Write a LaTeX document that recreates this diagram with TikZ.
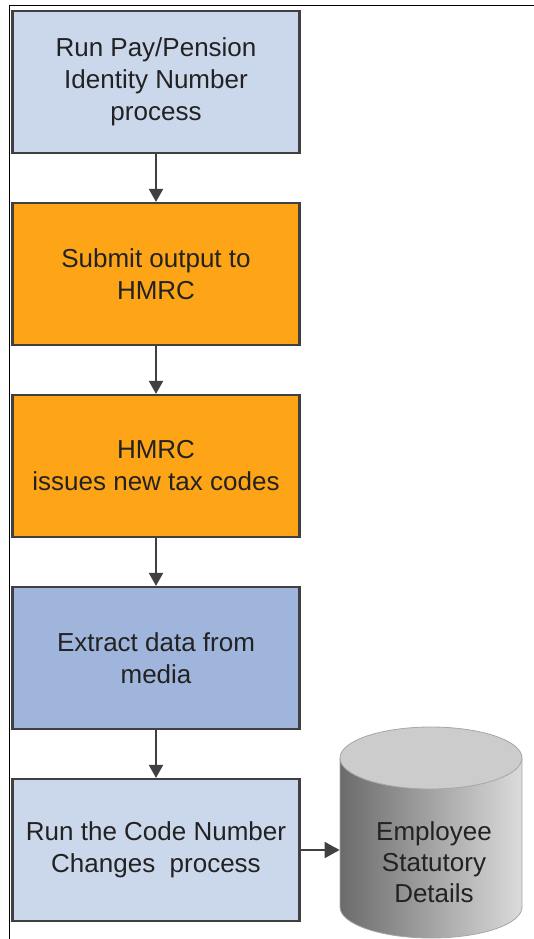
\documentclass[tikz,border=0pt]{standalone}
\usepackage{fontspec}
\setmainfont{Liberation Sans}
\usetikzlibrary{positioning,arrows.meta}
\definecolor{paleblue}{HTML}{CBD8EB}
\definecolor{midblue}{HTML}{A0B5DB}
\definecolor{hmrcorange}{HTML}{FDA516}
\definecolor{edgegray}{HTML}{404040}
\definecolor{textgray}{HTML}{222222}
\tikzset{
  stepbox/.style={draw=edgegray, line width=2.2pt, minimum width=287pt, minimum height=142pt,
    align=center, text=textgray, font=\fontsize{26}{32}\selectfont, inner sep=0pt},
  flow/.style={draw=edgegray, line width=2pt, -{Triangle[length=13pt,width=14pt]}}
}

\begin{document}
\begin{tikzpicture}[x=1pt, y=-1pt]
		%%%%% START %%%%%
		\useasboundingbox (0, 0) rectangle (534, 939);
		
		\draw[line width=1pt] (9, 939) -- (9, 6) -- (534, 6);
		
		\node[stepbox, fill=paleblue] (pin) at (156, 82) {Run Pay/Pension\\Identity Number\\process};
		\node[stepbox, fill=hmrcorange, below=47.8pt of pin] (submit) {Submit output to\\HMRC};
		\node[stepbox, fill=hmrcorange, below=47.8pt of submit] (codes) {HMRC\\issues new tax codes};
		\node[stepbox, fill=midblue, below=47.8pt of codes] (extract) {Extract data from\\media};
		\node[stepbox, fill=paleblue, below=47.8pt of extract] (cnc) {Run the Code Number\\Changes\ \ process};
		
		% database cylinder
		\shade[left color=black!58, right color=black!14]
			(340, 758) -- (340, 907) arc[start angle=180, end angle=0, x radius=91, y radius=31] -- (522, 758) -- cycle;
		\draw[black!35, line width=0.8pt]
			(340, 758) -- (340, 907) arc[start angle=180, end angle=0, x radius=91, y radius=31] -- (522, 758);
		\draw[black!35, fill=black!20, line width=0.8pt] (431, 758) ellipse (91 and 31);
		\node[align=center, text=textgray, font=\fontsize{26}{31}\selectfont] (esd) at (434, 862) {Employee\\Statutory\\Details};
		\coordinate (dbleft) at ([xshift=39pt]cnc.east);
		
		\draw[flow] (pin) -- (submit);
		\draw[flow] (submit) -- (codes);
		\draw[flow] (codes) -- (extract);
		\draw[flow] (extract) -- (cnc);
		\draw[flow, -{Triangle[length=15pt,width=16pt]}] (cnc.east) -- (dbleft);
		%%%%% END %%%%%
\end{tikzpicture}
\end{document}
